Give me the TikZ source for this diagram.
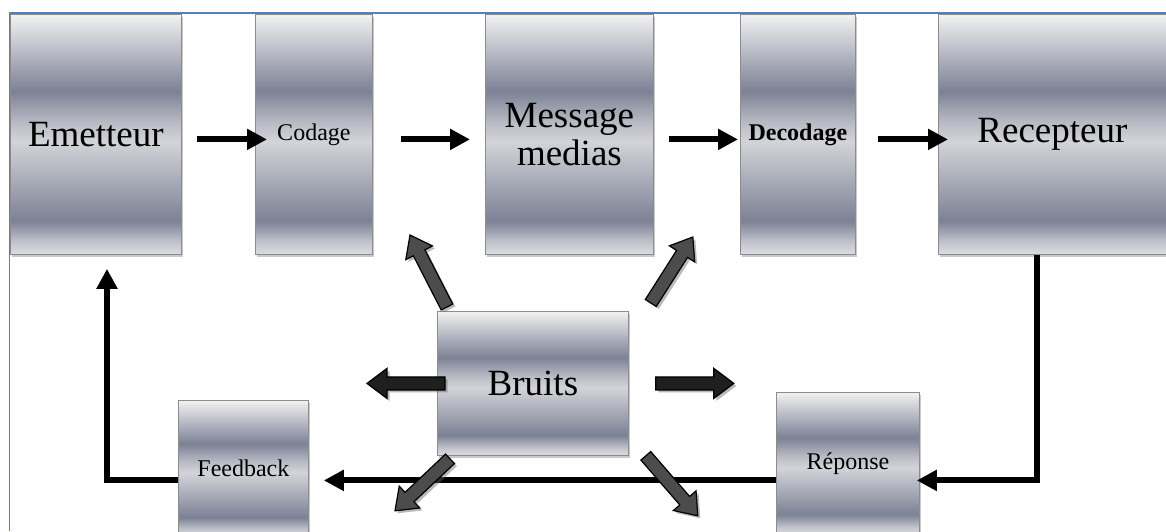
\documentclass[tikz,border=0pt]{standalone}
\usepackage{fontspec}
\setmainfont{Liberation Serif}
\usetikzlibrary{arrows.meta,calc,shadows}

% brushed-metal panel colours
\definecolor{metalTop}{HTML}{F2F2F3}
\definecolor{metalDark}{HTML}{7C8195}
\definecolor{metalMid}{HTML}{D3D4D9}
\definecolor{metalMidB}{HTML}{B9BBC4}
\definecolor{metalBot}{HTML}{DCDDE2}
\definecolor{metalBotB}{HTML}{C3C5CD}
\definecolor{frameBlue}{RGB}{79,129,189}

% vertical metal shading (bottom -> top, visible part 25bp..75bp)
\pgfdeclareverticalshading{metal}{100bp}{%
  color(0bp)=(metalBot); color(25bp)=(metalBot); color(27.5bp)=(metalBotB);
  color(32bp)=(metalDark); color(48.5bp)=(metalMid); color(52.5bp)=(metalMidB);
  color(59bp)=(metalDark); color(75bp)=(metalTop); color(100bp)=(metalTop)}

\tikzset{
  panel/.style={shading=metal, draw=black!45, line width=0.8pt, inner sep=0pt,
    anchor=north west, align=center,
    drop shadow={shadow xshift=2pt, shadow yshift=-3pt, opacity=0.3, fill=black!70}},
  big/.style={font=\fontsize{37}{38}\selectfont},
  small/.style={font=\fontsize{24}{26}\selectfont},
  flow/.style={line width=6pt, -{Triangle[length=20pt,width=20pt]}},
  noise/.style={fill=black!70, draw=black, line width=1.2pt, line join=miter,
    drop shadow={shadow xshift=2.5pt, shadow yshift=-2.5pt, opacity=0.45, fill=black!60}},
  noiseH/.style={noise, fill=black!88},
}

% block arrow radiating from the noise box: #1 style, #2 tail, #3 tip
\newcommand\noisearrow[3]{%
  \coordinate (nbase) at ($(#3)!20pt!(#2)$);
  \path[#1] ($(#2)!6.5pt!90:(#3)$) -- ($(nbase)!6.5pt!90:(#3)$)
    -- ($(nbase)!15pt!90:(#3)$) -- (#3) -- ($(nbase)!15pt!-90:(#3)$)
    -- ($(nbase)!6.5pt!-90:(#3)$) -- ($(#2)!6.5pt!-90:(#3)$) -- cycle;}

\begin{document}
\begin{tikzpicture}[x=1pt, y=-1pt]
\useasboundingbox (0,0) rectangle (1166,531);

% top chain
\node[panel, big, minimum width=171pt, minimum height=240pt] (emetteur) at (10,14) {Emetteur};
\node[panel, small, minimum width=117pt, minimum height=240pt] (codage) at (255,14) {Codage};
\node[panel, big, minimum width=168pt, minimum height=240pt] (message) at (485,14) {Message\\medias};
\node[panel, small, font=\fontsize{24}{26}\selectfont\bfseries, minimum width=115pt, minimum height=240pt] (decodage) at (740,14) {Decodage};
\node[panel, big, minimum width=228pt, minimum height=240pt] (recepteur) at (938,14) {Recepteur};

% noise and return path
\node[panel, big, minimum width=191pt, minimum height=144pt] (bruits) at (437,311) {Bruits};
\node[panel, small, minimum width=130pt, minimum height=136pt] (feedback) at (178,400) {Feedback};
\node[panel, small, minimum width=143pt, minimum height=142pt] (reponse) at (776,392) {Réponse};

% forward flow
\draw[flow] ([shift={(15,5)}]emetteur.east) -- ([shift={(12,5)}]codage.west);
\draw[flow] ([shift={(28,5)}]codage.east) -- ([shift={(-15,5)}]message.west);
\draw[flow] ([shift={(15,5)}]message.east) -- ([shift={(-2,5)}]decodage.west);
\draw[flow] ([shift={(22,5)}]decodage.east) -- ([shift={(10,5)}]recepteur.west);

% return flow
\draw[flow] ([shift={(-15,0)}]recepteur.south) |- ([shift={(-3,17)}]reponse.east);
\draw[flow] ([shift={(0,17)}]reponse.west) -- ([shift={(15,12)}]feedback.east);
\draw[flow] ([shift={(0,12)}]feedback.west) -| ([shift={(97,14)}]emetteur.south west);

% noise arrows
\coordinate (ulA) at ([shift={(10,-4)}]bruits.north west);
\coordinate (ulB) at ([shift={(-27,-76)}]bruits.north west);
\coordinate (urA) at ([shift={(22,-8)}]bruits.north east);
\coordinate (urB) at ([shift={(64,-74)}]bruits.north east);
\coordinate (lA) at ([shift={(8,0)}]bruits.west);
\coordinate (lB) at ([shift={(-70,0)}]bruits.west);
\coordinate (rA) at ([shift={(27,0)}]bruits.east);
\coordinate (rB) at ([shift={(105,0)}]bruits.east);
\coordinate (dlA) at ([shift={(13,3)}]bruits.south west);
\coordinate (dlB) at ([shift={(-42,55)}]bruits.south west);
\coordinate (drA) at ([shift={(17,0)}]bruits.south east);
\coordinate (drB) at ([shift={(69,60)}]bruits.south east);

\noisearrow{noise}{ulA}{ulB}
\noisearrow{noise}{urA}{urB}
\noisearrow{noiseH}{lA}{lB}
\noisearrow{noiseH}{rA}{rB}
\noisearrow{noise}{dlA}{dlB}
\noisearrow{noise}{drA}{drB}

% page frame
\draw[frameBlue, line width=1.5pt] (9.5,531) -- (9.5,13) -- (1166,13);
\end{tikzpicture}
\end{document}
